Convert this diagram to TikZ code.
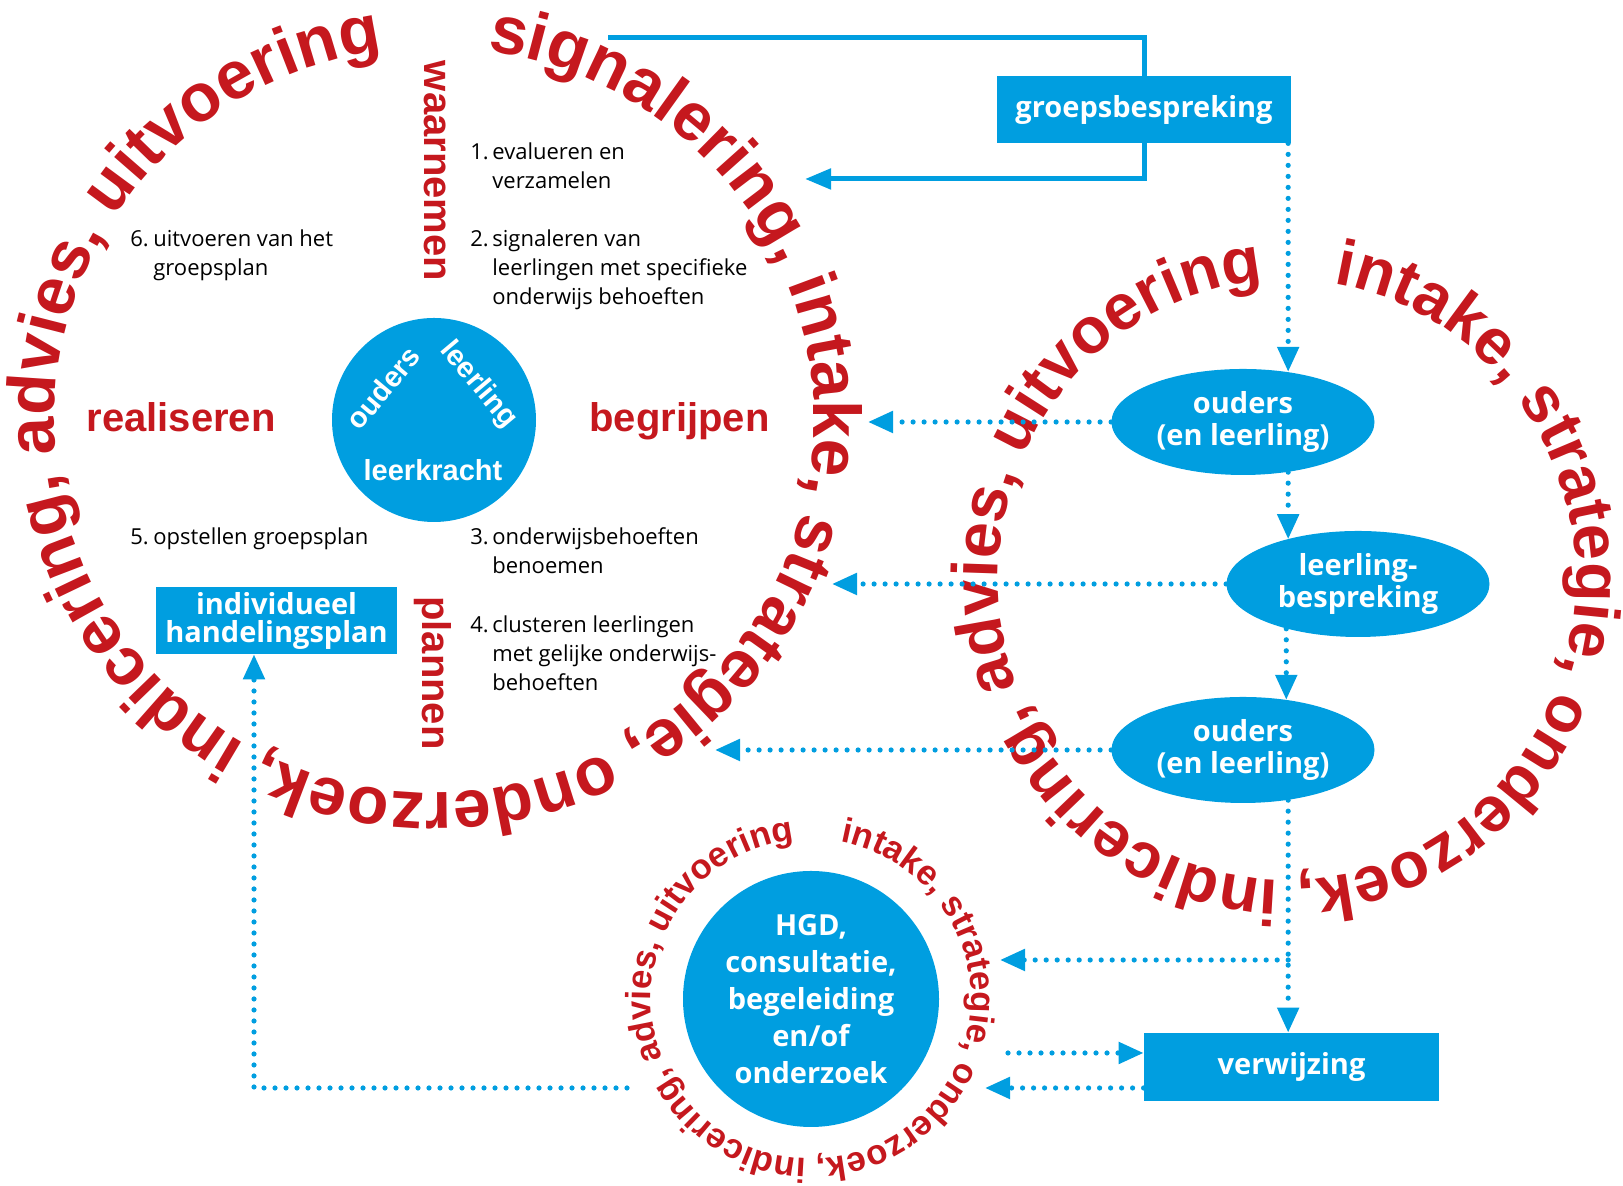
\documentclass[tikz,border=0pt]{standalone}
\usepackage{fontspec}
\setmainfont{Liberation Sans}
\newfontfamily\frutfont{Open Sans}
\usetikzlibrary{positioning, calc}
\usetikzlibrary{arrows.meta}
\usetikzlibrary{shapes.geometric}
\usetikzlibrary{decorations.text}
\definecolor{hgdblue}{RGB}{0,158,224}
\definecolor{hgdred}{RGB}{197,24,30}
\newcommand{\ringbig}{\bfseries\fontsize{33.8}{34}\selectfont}
\newcommand{\ringmid}{\bfseries\fontsize{32.3}{33}\selectfont}
\newcommand{\ringsmall}{\bfseries\fontsize{17.4}{18}\selectfont}
\tikzset{
	bluebox/.style={rectangle, fill=hgdblue, text=white, inner sep=0pt, align=center, font=\frutfont\bfseries\fontsize{14.5}{14.5}\selectfont},
	blueoval/.style={ellipse, fill=hgdblue, text=white, inner sep=0pt, align=center, minimum width=131.5pt, minimum height=53pt, font=\frutfont\bfseries\fontsize{14.5}{16}\selectfont},
	bluedisc/.style={circle, fill=hgdblue, text=white, inner sep=0pt, align=center},
	circtext/.style={text=white, inner sep=0pt, font=\bfseries\fontsize{14.5}{14.5}\selectfont},
	phase/.style={text=hgdred, inner sep=0pt, font=\bfseries\fontsize{20}{20}\selectfont},
	item/.style={inner sep=0pt, anchor=base west, font=\frutfont\fontsize{11}{14.5}\selectfont},
	% text round the circles
	ring/.style={decorate, decoration={text along path, text align=center, text color=hgdred, text={#1}}},
}
\tikzset{
	solidline/.style={hgdblue, line width=2.5pt},
	dotline/.style={hgdblue, line width=2.6pt, dash pattern=on 0pt off 5.5pt, line cap=round, -{Triangle[length=12.5pt, width=10.5pt]}}
}

\begin{document}
\begin{tikzpicture}[x=0.5pt, y=0.5pt]
		\useasboundingbox (0,0) rectangle (1623,1186);
		
		\node (cc) [bluedisc, minimum size=102pt] at (434,766) {};
		\node (hgd) [bluedisc, minimum size=128pt, font=\frutfont\bfseries\fontsize{14.5}{18.5}\selectfont] at (811,187) {HGD,\\consultatie,\\begeleiding\\en/of\\onderzoek};
		\coordinate (ringR) at (1287,606);
		
		\path[ring={|\ringbig|signalering, intake, strategie, onderzoek, indicering, advies, uitvoering}]
			(cc.center) ++(83.6:190pt and 186.5pt) arc[start angle=83.6, end angle=-263.9, x radius=190pt, y radius=186.5pt];
		\path[ring={|\ringmid|intake, strategie, onderzoek, indicering, advies, uitvoering}]
			(ringR) ++(82.5:144.5pt and 150pt) arc[start angle=82.5, end angle=-267.05, x radius=144.5pt, y radius=150pt];
		\path[ring={|\ringsmall|intake, strategie, onderzoek, indicering, advies, uitvoering}]
			(hgd.center) ++(82.5:80pt) arc[start angle=82.5, end angle=-267.1, radius=80pt];
		
		\node (ouders) [circtext, rotate=50] at (383,798) {ouders};
		\node (leerling) [circtext, rotate=-50] at (478,801) {leerling};
		\node (leerkracht) [circtext] at (433,716) {leerkracht};
		
		\node (realiseren) [phase, anchor=base] at (181,754) {realiseren};
		\node (begrijpen) [phase, anchor=base] at (679.5,754) {begrijpen};
		\node (waarnemen) [phase, rotate=-90] at (435,1015) {waarnemen};
		\node (plannen) [phase, rotate=-90] at (433,513) {plannen};
		
		\node (stap1) [item] at (470,1026) {\begin{tabular}[t]{@{}p{11pt}@{}l@{}}1.&evalueren en\\&verzamelen\end{tabular}};
		\node (stap2) [item] at (470,939) {\begin{tabular}[t]{@{}p{11pt}@{}l@{}}2.&signaleren van\\&leerlingen met specifieke\\&onderwijs behoeften\end{tabular}};
		\node (stap3) [item] at (470,641) {\begin{tabular}[t]{@{}p{11pt}@{}l@{}}3.&onderwijsbehoeften\\&benoemen\end{tabular}};
		\node (stap4) [item] at (470,553) {\begin{tabular}[t]{@{}p{11pt}@{}l@{}}4.&clusteren leerlingen\\&met gelijke onderwijs-\\&behoeften\end{tabular}};
		\node (stap5) [item] at (130,641) {\begin{tabular}[t]{@{}p{11.5pt}@{}l@{}}5.&opstellen groepsplan\end{tabular}};
		\node (stap6) [item] at (130,939) {\begin{tabular}[t]{@{}p{11.5pt}@{}l@{}}6.&uitvoeren van het\\&groepsplan\end{tabular}};
		
		\node (gp) [bluebox, minimum width=147pt, minimum height=33.5pt] at (1144,1076.5) {groepsbespreking};
		\node (hp) [bluebox, minimum width=120.5pt, minimum height=33.5pt, font=\frutfont\bfseries\fontsize{14.5}{14}\selectfont] at (276.5,565.5) {individueel\\handelingsplan};
		\node (vw) [bluebox, minimum width=147.5pt, minimum height=34pt] at (1291.5,119) {verwijzing};
		\node (e1) [blueoval] at (1243,764) {ouders\\(en leerling)};
		\node (e2) [blueoval] at (1358,602) {leerling-\\bespreking};
		\node (e3) [blueoval] at (1243,436) {ouders\\(en leerling)};
		
		\coordinate (gpin) at (608,1148);
		\coordinate (gpout) at (805,1007);
		\coordinate (bgtip) at (868,764);
		\coordinate (e2tip) at (832,602);
		\coordinate (e3tip) at (715,436);
		\coordinate (hgdtip) at (1000,226);
		\coordinate (vwfrom) at (1008,133);
		\coordinate (vwtip) at (985,98);
		\coordinate (hpfrom) at (627,98);
		
		\draw[solidline] (gpin) -| (gp.north);
		\draw[solidline, -{Triangle[length=13pt, width=10pt]}] (gp.south) |- (gpout);
		
		\begin{scope}[dotline]
			\draw (e1.48 |- gp.south) -- (e1.48);
			\draw (e1.-48) -- (e1.-48 |- e2.148);
			\draw (e2.212) -- (e2.212 |- e3.48);
			\draw (e3.-48) -- (e3.-48 |- vw.north);
			\draw (e1.west) -- (bgtip);
			\draw (e2.west) -- (e2tip);
			\draw (e3.west) -- (e3tip);
			\draw (e3.-48 |- hgdtip) -- (hgdtip);
			\draw (vwfrom) -- (vwfrom -| vw.west);
			\draw (vwtip -| vw.west) -- (vwtip);
			\draw (hpfrom) -| ([xshift=-11.25pt]hp.south);
		\end{scope}
	\end{tikzpicture}
\end{document}
